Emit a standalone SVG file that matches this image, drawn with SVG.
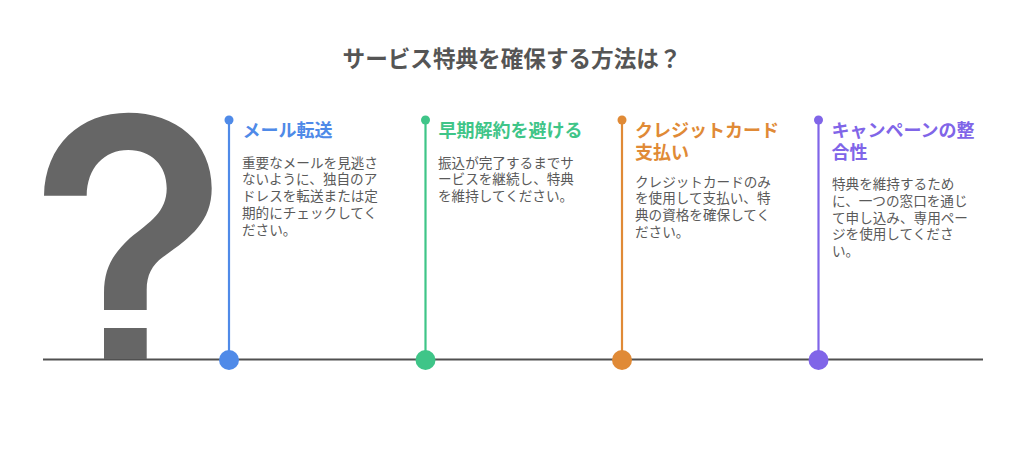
<svg xmlns="http://www.w3.org/2000/svg" width="1024" height="470" viewBox="0 0 1024 470">
<style>
text{font-family:"Noto Sans CJK JP","Noto Sans",sans-serif}
.t{font-size:22.6px;font-weight:700;fill:#555;text-anchor:middle}
.h{font-size:18px;font-weight:700}
.b{font-size:13.6px;fill:#5a5a5a}
.v{stroke-width:2.2;fill:none}
.blue{fill:#4f8ae8}.green{fill:#3fc588}.orange{fill:#e08a36}.purple{fill:#8065e8}
</style>
<rect width="1024" height="470" fill="#fff"/>
<text class="t" x="512" y="67">サービス特典を確保する方法は？</text>
<g id="connectors">
<line x1="43" y1="359.500" x2="983" y2="359.500" stroke="#505050" stroke-width="2"/>
<line class="v" x1="229" y1="120" x2="229" y2="360" stroke="#4f8ae8"/>
<line class="v" x1="425.500" y1="120" x2="425.500" y2="360" stroke="#3fc588"/>
<line class="v" x1="622" y1="120" x2="622" y2="360" stroke="#e08a36"/>
<line class="v" x1="818.500" y1="120" x2="818.500" y2="360" stroke="#8065e8"/>
</g>
<g id="question">
<path fill="#666" d="M44 195.700C45 145 80 112.700 128.300 112.700C176 112.700 211.700 142 211.700 188.300C211.700 222 190 238 163 257C152 265 146.700 275 146.700 290V310H104V293C104 268 113 254 130 238C150 222 166.700 212 166.700 188.300C166.700 165 151 150 128.300 150C104 150 87 168 86.700 195.700Z"/>
<rect x="104" y="328" width="42.700" height="31" fill="#666"/>
</g>
<g id="node1">
<circle class="blue" cx="229" cy="120" r="4.500"/><circle class="blue" cx="229" cy="360" r="10"/>
<text class="h blue" x="242.500" y="137">メール転送</text>
<text class="b"><tspan x="242" y="167.500">重要なメールを見逃さ</tspan><tspan x="242" y="184.300">ないように、独自のア</tspan><tspan x="242" y="201">ドレスを転送または定</tspan><tspan x="242" y="217.800">期的にチェックしてく</tspan><tspan x="242" y="234.600">ださい。</tspan></text>
</g>
<g id="node2">
<circle class="green" cx="425.500" cy="120" r="4.500"/><circle class="green" cx="425.500" cy="360" r="10"/>
<text class="h green" x="438.500" y="137">早期解約を避ける</text>
<text class="b"><tspan x="438" y="167.500">振込が完了するまでサ</tspan><tspan x="438" y="184.300">ービスを継続し、特典</tspan><tspan x="438" y="201">を維持してください。</tspan></text>
</g>
<g id="node3">
<circle class="orange" cx="622" cy="120" r="4.500"/><circle class="orange" cx="622" cy="360" r="10"/>
<text class="h orange" x="635" y="137">クレジットカード</text>
<text class="h orange" x="635" y="159">支払い</text>
<text class="b"><tspan x="635" y="186.500">クレジットカードのみ</tspan><tspan x="635" y="203.300">を使用して支払い、特</tspan><tspan x="635" y="220">典の資格を確保してく</tspan><tspan x="635" y="236.800">ださい。</tspan></text>
</g>
<g id="node4">
<circle class="purple" cx="818.500" cy="120" r="4.500"/><circle class="purple" cx="818.500" cy="360" r="10"/>
<text class="h purple" x="831.500" y="137">キャンペーンの整</text>
<text class="h purple" x="831.500" y="159">合性</text>
<text class="b"><tspan x="832" y="189">特典を維持するため</tspan><tspan x="832" y="205.800">に、一つの窓口を通じ</tspan><tspan x="832" y="222.600">て申し込み、専用ペー</tspan><tspan x="832" y="239.400">ジを使用してくださ</tspan><tspan x="832" y="256.200">い。</tspan></text>
</g>
</svg>
